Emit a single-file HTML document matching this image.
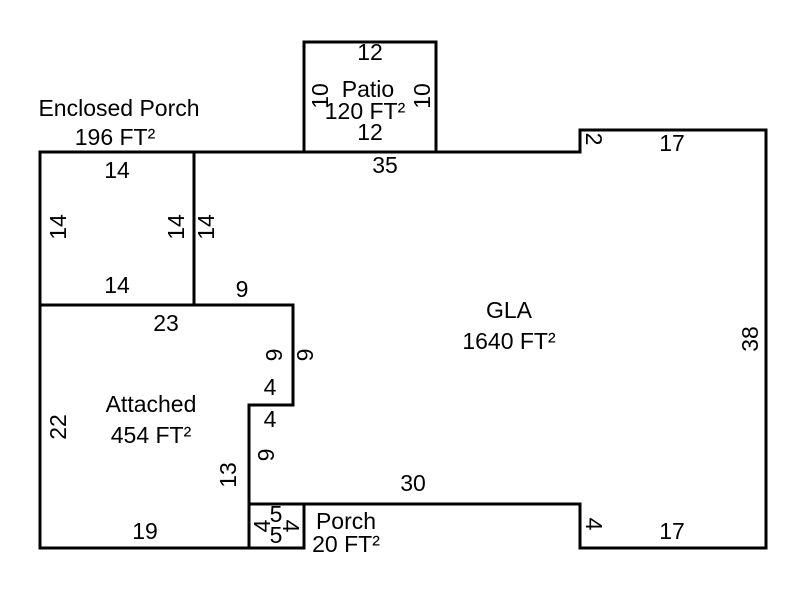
<!DOCTYPE html>
<html><head><meta charset="utf-8"><style>body{margin:0;background:#fff}svg{display:block}</style></head>
<body>
<svg width="800" height="600" xmlns="http://www.w3.org/2000/svg" font-family="Liberation Sans, sans-serif" font-size="23" fill="#000">
<g stroke="#000" stroke-width="3" fill="none" stroke-linecap="square">
<path d="M40 152 H580 V130 H766 V548 H580 V504 H304 V548 H40 Z"/>
<path d="M304 152 V42 H436 V152"/>
<path d="M194 152 V305"/>
<path d="M40 305 H293 V405 H249 V548"/>
<path d="M249 504 H304"/>
</g>
<g text-anchor="middle">
<text x="119" y="116">Enclosed Porch</text>
<text x="115" y="145">196 FT²</text>
<text x="370" y="60">12</text>
<text x="368" y="97">Patio</text>
<text x="365" y="119">120 FT²</text>
<text x="370" y="140">12</text>
<text x="385" y="173">35</text>
<text x="672" y="151">17</text>
<text x="117" y="178">14</text>
<text x="117" y="293">14</text>
<text x="242" y="297">9</text>
<text x="166" y="331">23</text>
<text x="509" y="318">GLA</text>
<text x="509" y="349">1640 FT²</text>
<text x="151" y="412">Attached</text>
<text x="151" y="443">454 FT²</text>
<text x="270" y="395">4</text>
<text x="270" y="427">4</text>
<text x="413" y="491">30</text>
<text x="145" y="539">19</text>
<text x="276" y="522">5</text>
<text x="276" y="543">5</text>
<text x="346" y="529">Porch</text>
<text x="346" y="552">20 FT²</text>
<text x="672" y="539">17</text>
</g>
<g text-anchor="middle">
<text transform="translate(66,227) rotate(-90)">14</text>
<text transform="translate(184,227) rotate(-90)">14</text>
<text transform="translate(214,227) rotate(-90)">14</text>
<text transform="translate(328,96) rotate(-90)">10</text>
<text transform="translate(430,96) rotate(-90)">10</text>
<text transform="translate(586,139) rotate(90)">2</text>
<text transform="translate(758,339) rotate(-90)">38</text>
<text transform="translate(282,355) rotate(-90)">9</text>
<text transform="translate(313,355) rotate(-90)">9</text>
<text transform="translate(274,455) rotate(-90)">9</text>
<text transform="translate(66,427) rotate(-90)">22</text>
<text transform="translate(236,475) rotate(-90)">13</text>
<text transform="translate(586,524) rotate(90)">4</text>
<text transform="translate(270,526) rotate(-90)">4</text>
<text transform="translate(283,526) rotate(90)">4</text>
</g>
</svg>
</body></html>
